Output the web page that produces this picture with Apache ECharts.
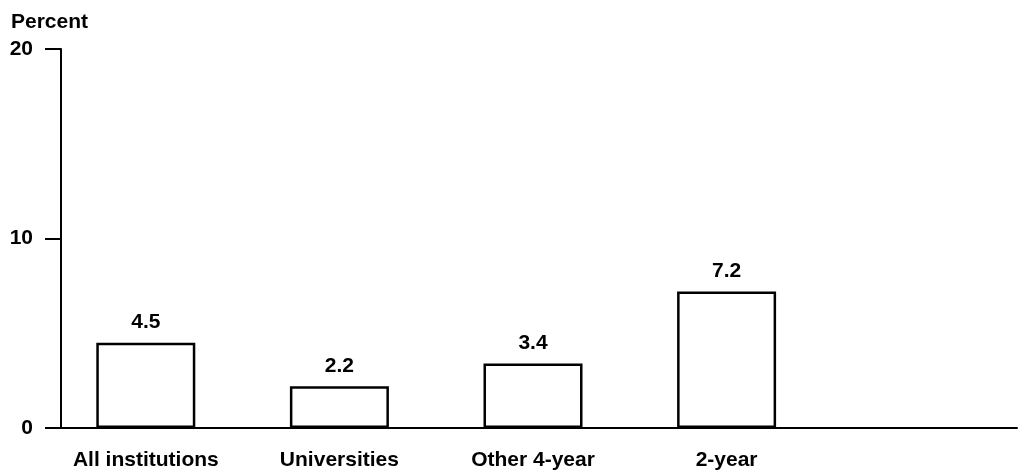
<!DOCTYPE html>
<html>
<head>
<meta charset="utf-8">
<script src="https://cdn.jsdelivr.net/npm/echarts@6/dist/echarts.min.js"></script>
<style>
  html, body { margin: 0; padding: 0; background: #fff; }
  #chart { width: 1023px; height: 473px; }
</style>
</head>
<body>
<div id="chart"></div>
<script>
const categories = ['All institutions', 'Universities', 'Other 4-year', '2-year', ''];
const values = [4.5, 2.2, 3.4, 7.2];
const yTicks = [0, 10, 20];
const yAxisTitle = 'Percent';

const FONT = '"Liberation Sans", Arial, Helvetica, sans-serif';
const chart = echarts.init(document.getElementById('chart'), null, { renderer: 'canvas' });
chart.setOption({
  backgroundColor: '#ffffff',
  animation: false,
  title: {
    text: yAxisTitle,
    left: 11,
    top: 12,
    padding: 0,
    textStyle: { fontFamily: FONT, fontSize: 21, fontWeight: 'bold', color: '#000' }
  },
  grid: { left: 49, right: 6, top: 49, bottom: 45, containLabel: false },
  xAxis: {
    type: 'category',
    data: categories,
    boundaryGap: true,
    axisLine: { show: true, lineStyle: { color: '#000', width: 2 } },
    axisTick: { show: false },
    axisLabel: {
      interval: 0,
      margin: 22,
      fontFamily: FONT, fontSize: 21, fontWeight: 'bold', color: '#000'
    },
    splitLine: { show: false }
  },
  yAxis: {
    type: 'value',
    min: yTicks[0],
    max: yTicks[yTicks.length - 1],
    interval: 10,
    offset: -12,
    axisLine: { show: true, lineStyle: { color: '#000', width: 2 } },
    axisTick: { show: true, length: 16, lineStyle: { color: '#000', width: 2 } },
    axisLabel: {
      margin: 28,
      fontFamily: FONT, fontSize: 21, fontWeight: 'bold', color: '#000'
    },
    splitLine: { show: false }
  },
  series: [{
    type: 'bar',
    data: values,
    barWidth: 99,
    itemStyle: { color: '#ffffff', borderColor: '#000', borderWidth: 2.5 },
    label: {
      show: true,
      position: 'top',
      distance: 10,
      formatter: p => p.value.toFixed(1),
      fontFamily: FONT, fontSize: 21, fontWeight: 'bold', color: '#000'
    }
  }]
});
</script>
</body>
</html>
